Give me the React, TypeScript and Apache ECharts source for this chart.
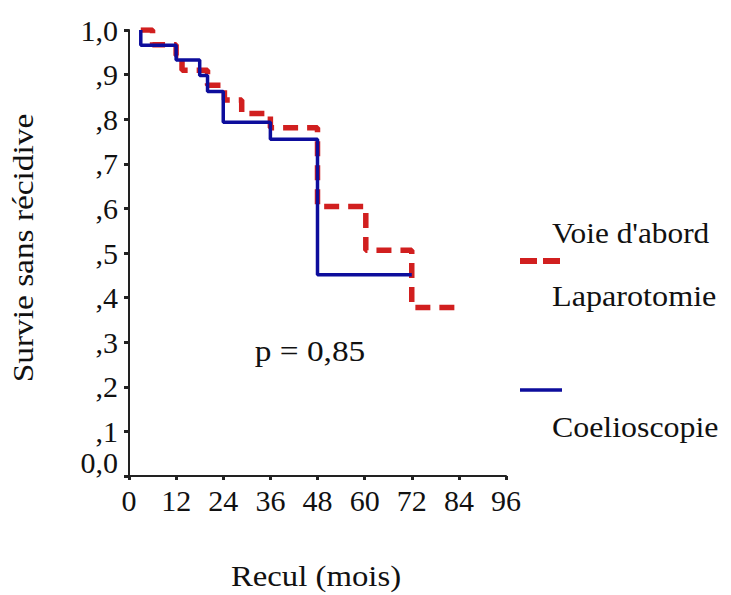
import React, { useEffect, useRef } from "react";
import * as echarts from "echarts";

// Kaplan-Meier steps (time in months, survival)
const lapTimes = [3, 6, 12, 13.5, 20, 24.3, 28.7, 36, 48, 60.3, 72, 84];
const lapSurv = [1.0, 0.967, 0.943, 0.91, 0.876, 0.843, 0.813, 0.781, 0.604, 0.506, 0.378, 0.378];
const coeTimes = [3, 3, 12, 18, 20, 24, 36, 48, 72];
const coeSurv = [1.0, 0.966, 0.933, 0.898, 0.862, 0.793, 0.755, 0.451, 0.451];

const yTickLabels = ["0,0", ",1", ",2", ",3", ",4", ",5", ",6", ",7", ",8", ",9", "1,0"];
const xTitle = "Recul (mois)";
const yTitle = "Survie sans récidive";
const legendTitle = "Voie d'abord";
const seriesNames = ["Laparotomie", "Coelioscopie"];
const pText = "p = 0,85";

const FONT = "'Liberation Serif', 'Times New Roman', serif";
const RED = "#d11f1f";
const BLUE = "#0d0d9c";

export default function App() {
  const ref = useRef<HTMLDivElement>(null);
  useEffect(() => {
    if (!ref.current) return;
    const chart = echarts.init(ref.current, null, { renderer: "svg" });
    const lapData = lapTimes.map((t, i) => [t, lapSurv[i]]);
    const coeData = coeTimes.map((t, i) => [t, coeSurv[i]]);
    const txt = (text: string, x: number, y: number, sx: number, align: string, rot = 0) => ({
      type: "text",
      x,
      y,
      rotation: rot,
      scaleX: sx,
      style: { text, fontFamily: FONT, fontSize: 29, fill: "#111", align, verticalAlign: "middle" },
    });
    chart.setOption({
      animation: false,
      backgroundColor: "#ffffff",
      grid: { left: 129, right: 225, top: 30, bottom: 119 },
      xAxis: {
        type: "value",
        min: 0,
        max: 96,
        interval: 12,
        splitLine: { show: false },
        axisLine: { show: true, lineStyle: { color: "#222", width: 2 } },
        axisTick: { show: true, length: 4, lineStyle: { color: "#222", width: 3 } },
        axisLabel: { color: "#111", fontFamily: FONT, fontSize: 30, margin: 9 },
      },
      yAxis: {
        type: "value",
        min: 0,
        max: 1,
        interval: 0.1,
        splitLine: { show: false },
        axisLine: { show: true, lineStyle: { color: "#222", width: 2 } },
        axisTick: { show: true, length: 5, lineStyle: { color: "#222", width: 3 } },
        axisLabel: {
          color: "#111",
          fontFamily: FONT,
          fontSize: 30,
          margin: 11,
          formatter: (v: number) => {
            const idx = Math.round(v * 10);
            if (idx === 0) return "{z|" + yTickLabels[0] + "}";
            return yTickLabels[idx];
          },
          rich: {
            z: { fontFamily: FONT, fontSize: 30, color: "#111", padding: [0, 0, 28, 0] },
          },
        },
      },
      series: [
        {
          name: seriesNames[0],
          type: "line",
          step: "end",
          data: lapData,
          symbol: "none",
          lineStyle: { color: RED, width: 5.5, type: [15, 9], cap: "butt" },
          z: 2,
        },
        {
          name: seriesNames[1],
          type: "line",
          step: "end",
          data: coeData,
          symbol: "none",
          lineStyle: { color: BLUE, width: 3.5 },
          z: 3,
        },
      ],
      graphic: [
        txt(yTitle, 23, 248, 1.15, "center", Math.PI / 2),
        txt(xTitle, 316, 576, 1.13, "center"),
        txt(pText, 310, 351, 1.15, "center"),
        txt(legendTitle, 552, 233, 1.08, "left"),
        {
          type: "line",
          shape: { x1: 520, y1: 261, x2: 563, y2: 261 },
          style: { stroke: RED, lineWidth: 6, lineDash: [17, 6] },
        },
        txt(seriesNames[0], 552, 297, 1.11, "left"),
        {
          type: "line",
          shape: { x1: 520, y1: 390, x2: 562, y2: 390 },
          style: { stroke: BLUE, lineWidth: 3.5 },
        },
        txt(seriesNames[1], 552, 427, 1.1, "left"),
      ],
    });
    return () => chart.dispose();
  }, []);
  return (
    <div
      ref={ref}
      style={{ position: "fixed", left: 0, top: 0, width: 731, height: 595, background: "#fff" }}
    />
  );
}
